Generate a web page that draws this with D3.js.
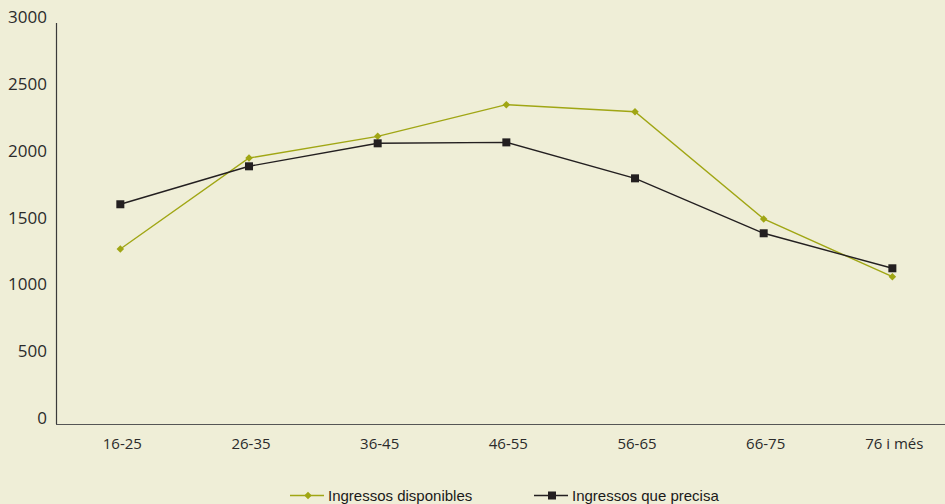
<!DOCTYPE html>
<html>
<head>
<meta charset="utf-8">
<script src="https://cdn.jsdelivr.net/npm/d3@7"></script>
<style>
html,body{margin:0;padding:0;background:#efeed7;}
svg{display:block;}
</style>
</head>
<body>
<svg id="chart" width="945" height="504"></svg>
<script>
const categories = ["16-25","26-35","36-45","46-55","56-65","66-75","76 i més"];
const disponibles = [1264,1945,2107,2344,2291,1489,1057];
const precisa = [1599,1883,2055,2062,1793,1382,1120];
const yTicks = [0,500,1000,1500,2000,2500,3000];
const seriesNames = ["Ingressos disponibles","Ingressos que precisa"];

const green = "#a0a614", dark = "#231f20";
const svg = d3.select("#chart");
svg.append("rect").attr("width",945).attr("height",504).attr("fill","#efeed7");

const x = d3.scaleBand().domain(categories).range([56, 956.7]);
const y = d3.scaleLinear().domain([0,3000]).range([418,17]);
const off = 6;

// frame
svg.append("line").attr("x1",56.5).attr("x2",56.5).attr("y1",y(3000)+off).attr("y2",y(0)+off)
  .attr("stroke","#3a3a3a").attr("stroke-width",1.2);
svg.append("line").attr("x1",56).attr("x2",945).attr("y1",y(0)+off+0.5).attr("y2",y(0)+off+0.5)
  .attr("stroke","#555").attr("stroke-width",1.2);

// y labels
svg.append("g").selectAll("text").data(yTicks).join("text")
  .attr("x",47).attr("y",d=>y(d)+6)
  .attr("text-anchor","end")
  .attr("font-family","Open Sans").attr("font-size",17).attr("fill","#2b2b2b")
  .text(d=>d);

// x labels
svg.append("g").selectAll("text").data(categories).join("text")
  .attr("x",d=>x(d)+x.bandwidth()/2+2).attr("y",449)
  .attr("text-anchor","middle")
  .attr("font-family","Open Sans").attr("font-size",15).attr("fill","#2b2b2b")
  .text(d=>d);

const line = d3.line().x((d,i)=>x(categories[i])+x.bandwidth()/2).y(d=>y(d));

svg.append("path").datum(disponibles).attr("d",line)
  .attr("fill","none").attr("stroke",green).attr("stroke-width",1.4);
svg.append("path").datum(precisa).attr("d",line)
  .attr("fill","none").attr("stroke",dark).attr("stroke-width",1.4);

const diamond = d3.symbol().type(d3.symbolDiamond2).size(36);
svg.append("g").selectAll("path").data(disponibles).join("path")
  .attr("d",diamond)
  .attr("transform",(d,i)=>`translate(${x(categories[i])+x.bandwidth()/2},${y(d)})`)
  .attr("fill",green);

svg.append("g").selectAll("rect").data(precisa).join("rect")
  .attr("x",(d,i)=>x(categories[i])+x.bandwidth()/2-4)
  .attr("y",d=>y(d)-4).attr("width",8).attr("height",8)
  .attr("fill",dark);

// legend
const legY = 495.5;
const leg = [
  {name:seriesNames[0], color:green, x0:290, type:"diamond"},
  {name:seriesNames[1], color:dark, x0:534, type:"square"}
];
leg.forEach(l=>{
  svg.append("line").attr("x1",l.x0).attr("x2",l.x0+34).attr("y1",legY).attr("y2",legY)
    .attr("stroke",l.color).attr("stroke-width",1.4);
  if(l.type==="diamond"){
    svg.append("path").attr("d",diamond).attr("transform",`translate(${l.x0+18},${legY})`).attr("fill",l.color);
  } else {
    svg.append("rect").attr("x",l.x0+18-4).attr("y",legY-4).attr("width",8).attr("height",8).attr("fill",l.color);
  }
  svg.append("text").attr("x",l.x0+38).attr("y",legY+5.5)
    .attr("font-family","Liberation Sans, Arial").attr("font-size",15).attr("fill","#1a1a1a")
    .text(l.name);
});
</script>
</body>
</html>
